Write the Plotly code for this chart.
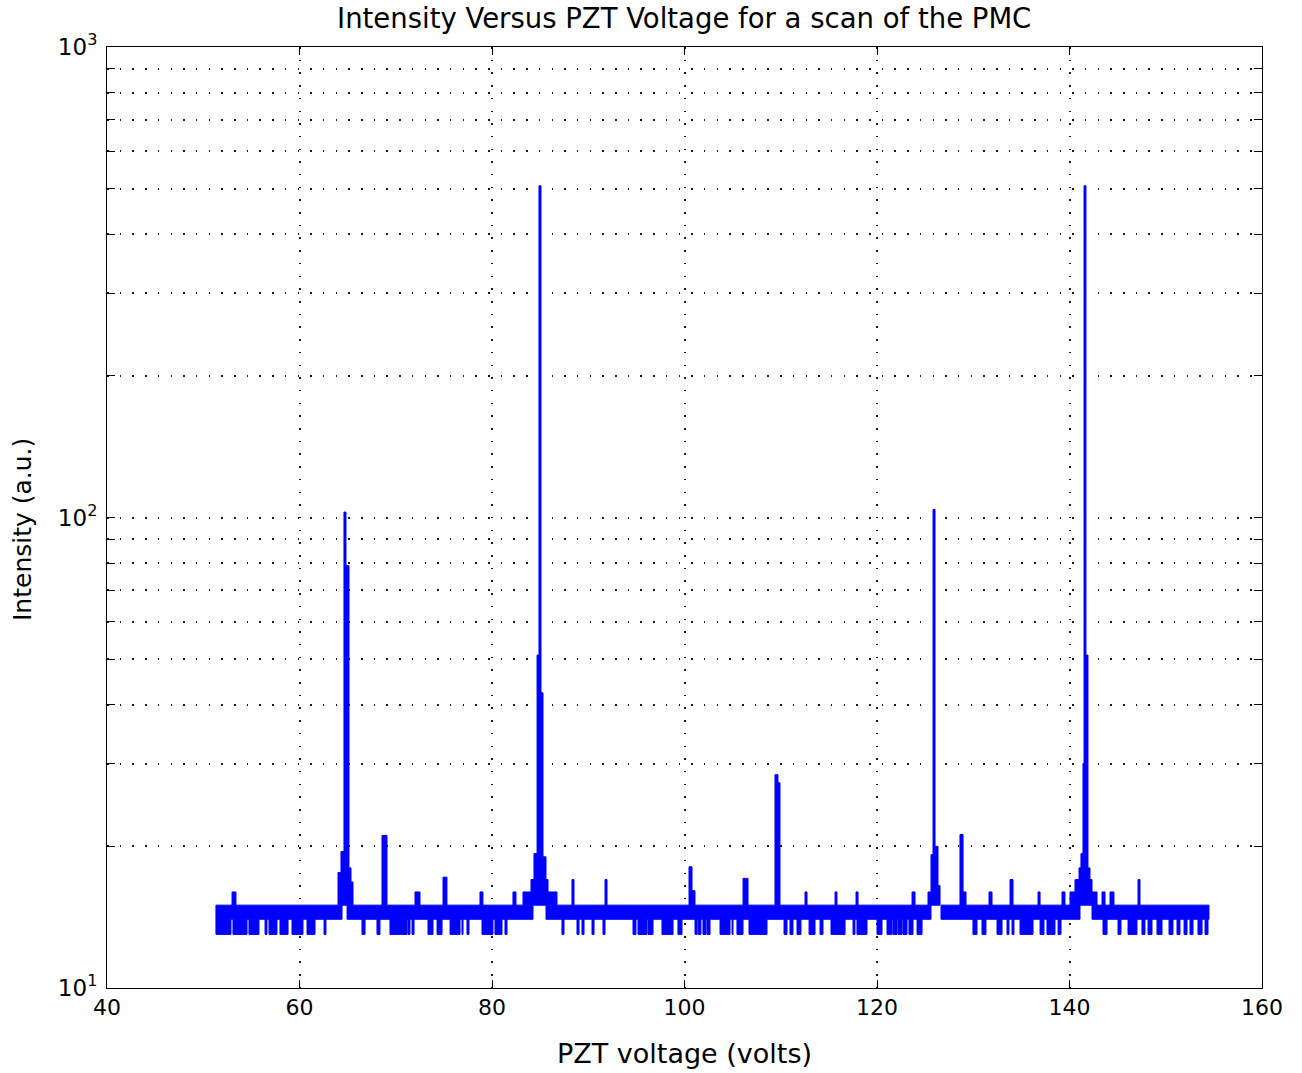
import plotly.graph_objects as go

# ---------------- data ----------------
# solid noise band (intensity flickers between 14 and 15) : x ranges in volts
band_start = [51.32, 64.94, 85.61, 126.65, 142.34]
band_end   = [64.42, 84.26, 125.61, 141.09, 154.49]
band_low = 14
band_high = 15

# short drops of the signal down to 13 : x ranges in volts
dip_level = 13
dip_start = [51.32, 53.09, 54.75, 56.42, 56.83, 57.97, 59.22, 60.78, 62.55,
             66.49, 68.05, 69.40, 71.27, 71.69, 73.35, 74.29, 75.64,
             76.88, 77.40, 78.96, 80.31, 81.35,
             87.27, 88.83, 89.35, 90.39, 91.53, 94.65, 95.17, 96.21, 97.66, 99.32,
             101.09, 101.40, 101.92, 102.34,
             103.69, 104.94, 105.45, 106.70, 110.34, 110.96, 111.69, 112.94, 114.08,
             115.22, 117.51, 117.92, 120.00, 121.04, 121.66, 122.18, 122.70, 123.32, 124.16,
             129.97, 130.91, 132.47, 133.51, 134.03, 134.86, 136.94, 137.66, 138.81,
             143.48, 145.04, 146.08, 147.53, 148.16, 149.09, 150.34, 151.17, 151.90,
             152.52, 153.35, 154.08]
dip_end   = [52.88, 54.55, 55.79, 56.62, 57.66, 58.81, 60.36, 61.61, 62.75,
             66.81, 68.36, 71.17, 71.48, 71.90, 73.87, 74.81, 76.68,
             76.99, 77.61, 80.10, 81.04, 81.56,
             87.48, 89.04, 89.56, 90.60, 91.74, 94.96, 96.10, 96.73, 98.81, 99.74,
             101.30, 101.71, 102.23, 102.65,
             104.73, 105.04, 106.08, 108.57, 110.65, 111.27, 112.10, 113.56, 114.39,
             116.68, 117.71, 118.96, 120.52, 121.56, 122.08, 122.60, 123.12, 123.74, 124.68,
             130.39, 131.32, 132.99, 133.71, 134.23, 136.21, 137.35, 138.49, 139.12,
             143.90, 145.35, 147.01, 147.84, 148.57, 149.61, 150.75, 151.48, 152.21,
             152.83, 153.77, 154.39]

# upward excursions (spikes and the four cavity resonances) : x range and intensity
rise_start = [52.99,
              64.00, 64.31, 64.62, 64.83, 65.14, 65.35,
              68.57, 72.00, 74.91, 78.75, 82.18,
              83.22, 84.05, 84.36, 84.68, 84.88, 85.09, 85.30, 85.61, 85.82,
              88.31, 91.74, 100.47, 100.78, 106.08, 109.40, 109.71,
              112.52, 115.64, 117.82, 123.64,
              125.30, 125.61, 125.82, 126.03, 126.34,
              128.62, 128.94, 131.64, 133.82, 136.73, 139.22,
              140.05, 140.57, 140.99, 141.19, 141.40, 141.51, 141.71, 141.92, 142.13, 142.34,
              143.38, 144.21, 147.12]
rise_end   = [53.40,
              64.31, 64.62, 64.83, 65.14, 65.35, 65.56,
              69.09, 72.52, 75.32, 79.06, 82.49,
              84.05, 84.36, 84.68, 84.88, 85.09, 85.30, 85.61, 85.82, 86.75,
              88.52, 91.95, 100.78, 101.09, 106.60, 109.71, 109.92,
              112.73, 115.84, 118.03, 123.95,
              125.61, 125.82, 126.03, 126.34, 126.55,
              128.94, 129.25, 131.95, 134.13, 136.94, 139.53,
              140.57, 140.99, 141.19, 141.40, 141.51, 141.71, 141.92, 142.13, 142.34, 142.86,
              143.69, 144.62, 147.32]
rise_value = [16,
              17.6, 19.5, 102.7, 79, 18, 16.8,
              21.1, 16, 17.2, 16, 16,
              16, 17, 19.3, 51, 507, 42.4, 19, 17, 16,
              17, 17, 18.1, 16.1, 17.1, 28.4, 27.3,
              16, 16, 16, 16,
              16, 19.2, 104, 20, 16.5,
              21.2, 16, 16, 17, 16, 16,
              16, 17, 18, 19.3, 30, 507, 51, 18, 17, 16,
              16, 16, 17]

x_ticks = [40, 60, 80, 100, 120, 140, 160]
y_major = [10, 100, 1000]
y_major_text = ["10<sup>1</sup>", "10<sup>2</sup>", "10<sup>3</sup>"]
y_minor = [20, 30, 40, 50, 60, 70, 80, 90,
           200, 300, 400, 500, 600, 700, 800, 900]

# ---------------- build polygon outlines ----------------
def rects(x0s, x1s, lows, highs):
    xs, ys = [], []
    for a, b, lo, hi in zip(x0s, x1s, lows, highs):
        xs += [a, b, b, a, a, None]
        ys += [lo, lo, hi, hi, lo, None]
    return xs, ys

bx, by = rects(band_start, band_end, [band_low] * len(band_start), [band_high] * len(band_start))
dx, dy = rects(dip_start, dip_end, [dip_level] * len(dip_start), [band_low] * len(dip_start))
rx, ry = rects(rise_start, rise_end, [band_high] * len(rise_start), rise_value)

BLUE = "#0000ff"
fig = go.Figure()
for xs, ys in [(bx, by), (dx, dy), (rx, ry)]:
    fig.add_trace(go.Scatter(x=xs, y=ys, mode="lines", fill="toself",
                             fillcolor=BLUE, line=dict(color=BLUE, width=1),
                             hoverinfo="skip", showlegend=False))

FONT = "DejaVu Sans"
GRID = dict(gridcolor="#1a1a1a", gridwidth=1.5, griddash="1.5px,11.2px")
axis_common = dict(
    showline=True, linecolor="black", linewidth=1, mirror="allticks",
    ticks="inside", ticklen=8, tickcolor="black", tickwidth=1,
    showgrid=True, zeroline=False,
    **GRID,
)

fig.update_layout(
    width=1302, height=1073,
    margin=dict(l=107, r=40, t=47, b=85),
    paper_bgcolor="white", plot_bgcolor="white",
    xaxis=dict(range=[40, 160], tickmode="array", tickvals=x_ticks,
               tickfont=dict(family=FONT, size=22, color="black"), **axis_common),
    yaxis=dict(type="log", range=[1, 3], tickmode="array", tickvals=y_major,
               ticktext=y_major_text, ticklabelstandoff=4,
               tickfont=dict(family=FONT, size=23, color="black"),
               minor=dict(tickmode="array", tickvals=y_minor, ticks="inside",
                          ticklen=8, tickcolor="black", tickwidth=1,
                          showgrid=True, **GRID),
               **axis_common),
    title=dict(text="Intensity Versus PZT Voltage for a scan of the PMC",
               font=dict(family=FONT, size=27.5, color="black"),
               x=0.5255, xanchor="center", y=1 - 18 / 1073, yanchor="middle",
               xref="container", yref="container"),
    annotations=[
        dict(text="PZT voltage (volts)", xref="paper", yref="paper",
             x=0.5, y=-65 / 941, xanchor="center", yanchor="middle",
             showarrow=False, font=dict(family=FONT, size=27, color="black")),
        dict(text="Intensity (a.u.)", xref="paper", yref="paper",
             x=-85 / 1155, y=(988 - 530) / 941, xanchor="center", yanchor="middle",
             textangle=-90, showarrow=False,
             font=dict(family=FONT, size=25, color="black")),
    ],
)

fig.write_html("out.html")
